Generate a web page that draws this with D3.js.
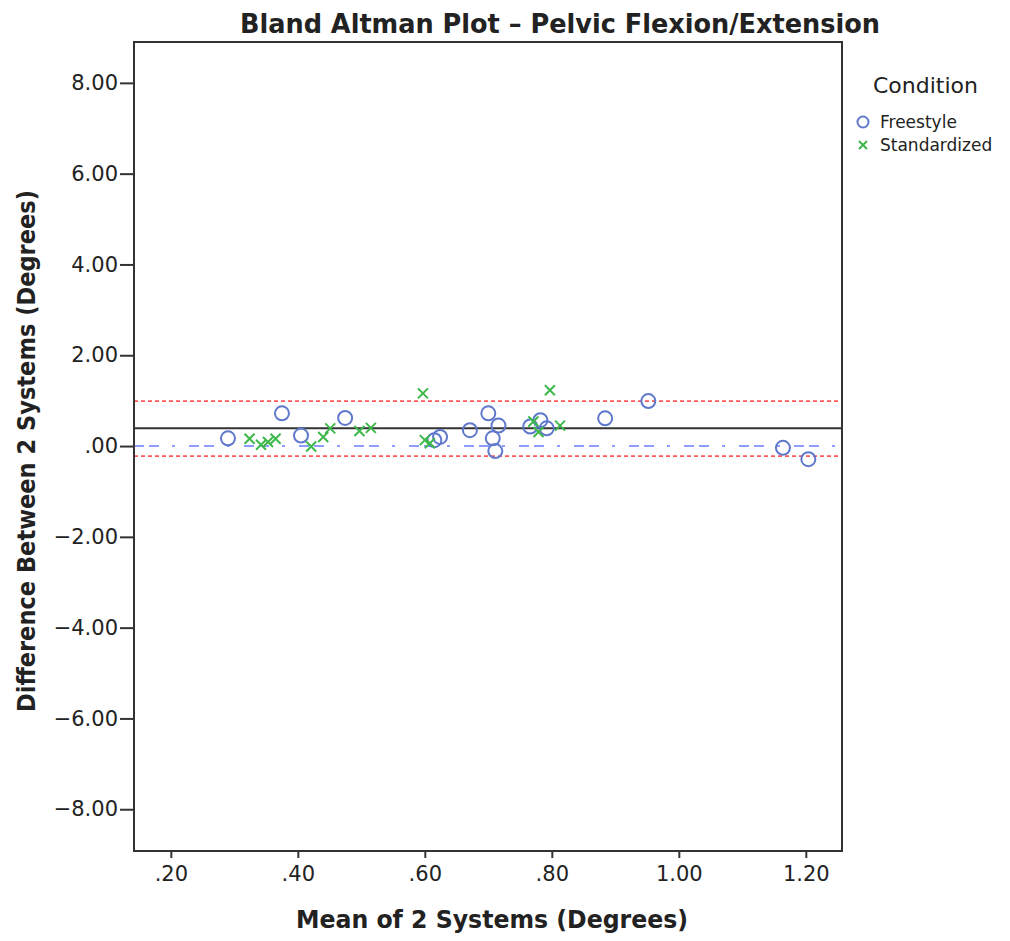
<!DOCTYPE html>
<html>
<head>
<meta charset="utf-8">
<script src="https://cdn.jsdelivr.net/npm/d3@7"></script>
<style>
  html, body { margin: 0; padding: 0; background: #fff; }
  svg { display: block; }
  text { font-family: "DejaVu Sans", sans-serif; fill: #222; }
</style>
</head>
<body>
<svg id="chart" width="1010" height="941"></svg>
<script>
// ---- data ----
const freestyleX = [0.290, 0.375, 0.405, 0.4745, 0.615, 0.624, 0.671, 0.700, 0.716, 0.707, 0.711, 0.766, 0.782, 0.792, 0.884, 0.952, 1.164, 1.204];
const freestyleY = [0.17, 0.72, 0.23, 0.62, 0.13, 0.20, 0.35, 0.72, 0.45, 0.17, -0.11, 0.43, 0.57, 0.39, 0.61, 0.99, -0.04, -0.29];
const standardX = [0.324, 0.342, 0.353, 0.365, 0.421, 0.440, 0.451, 0.497, 0.515, 0.597, 0.600, 0.608, 0.771, 0.779, 0.797, 0.813];
const standardY = [0.16, 0.03, 0.09, 0.16, -0.01, 0.20, 0.39, 0.33, 0.40, 1.16, 0.13, 0.06, 0.54, 0.31, 1.23, 0.45];
const meanDiff = 0.39;
const limitsOfAgreement = [0.99, -0.22];
const zeroLine = 0;
const xTicks = [0.2, 0.4, 0.6, 0.8, 1.0, 1.2];
const xTickLabels = [".20", ".40", ".60", ".80", "1.00", "1.20"];
const yTicks = [-8, -6, -4, -2, 0, 2, 4, 6, 8];
const yTickLabels = ["\u22128.00", "\u22126.00", "\u22124.00", "\u22122.00", ".00", "2.00", "4.00", "6.00", "8.00"];
const seriesNames = ["Freestyle", "Standardized"];
const titleText = "Bland Altman Plot \u2013 Pelvic Flexion/Extension";
const xTitle = "Mean of 2 Systems (Degrees)";
const yTitle = "Difference Between 2 Systems (Degrees)";
const legendTitle = "Condition";

// ---- layout ----
const L = 134, R = 842, T = 42, B = 851;
const blue = "#5f78cc", green = "#3db84a", red = "#ff5a5a", dashBlue = "#8c9dff";

const svg = d3.select("#chart");
const x = d3.scaleLinear().domain([0.142, 1.257]).range([L, R]);
const y = d3.scaleLinear().domain([-8.92, 8.90]).range([B, T]);

// reference lines
const g = svg.append("g");
g.append("line").attr("x1", L).attr("x2", R).attr("y1", y(zeroLine)).attr("y2", y(zeroLine))
  .attr("stroke", dashBlue).attr("stroke-width", 2).attr("stroke-dasharray", "10,5,10,13,3,14");
limitsOfAgreement.forEach(v => {
  g.append("line").attr("x1", L).attr("x2", R).attr("y1", y(v)).attr("y2", y(v))
    .attr("stroke", red).attr("stroke-width", 1.8).attr("stroke-dasharray", "4,3");
});
g.append("line").attr("x1", L).attr("x2", R).attr("y1", y(meanDiff)).attr("y2", y(meanDiff))
  .attr("stroke", "#333").attr("stroke-width", 2);

// points
const fData = freestyleX.map((v, i) => [v, freestyleY[i]]);
const sData = standardX.map((v, i) => [v, standardY[i]]);
g.selectAll("circle.f").data(fData).join("circle").attr("class", "f")
  .attr("cx", d => x(d[0])).attr("cy", d => y(d[1])).attr("r", 7)
  .attr("fill", "none").attr("stroke", blue).attr("stroke-width", 2);
const xs = 5;
g.selectAll("path.s").data(sData).join("path").attr("class", "s")
  .attr("d", d => { const cx = x(d[0]), cy = y(d[1]);
    return `M${cx-xs},${cy-xs}L${cx+xs},${cy+xs}M${cx-xs},${cy+xs}L${cx+xs},${cy-xs}`; })
  .attr("stroke", green).attr("stroke-width", 2).attr("fill", "none");

// axes
const xAxis = d3.axisBottom(x).tickValues(xTicks).tickFormat((d, i) => xTickLabels[i]).tickSize(7).tickPadding(8);
const yAxis = d3.axisLeft(y).tickValues(yTicks).tickFormat((d, i) => yTickLabels[i]).tickSize(14).tickPadding(2);
const gx = svg.append("g").attr("transform", `translate(0,${B})`).call(xAxis);
const gy = svg.append("g").attr("transform", `translate(${L},0)`).call(yAxis);
[gx, gy].forEach(a => {
  a.select(".domain").remove();
  a.selectAll(".tick line").attr("stroke", "#333").attr("stroke-width", 2);
  a.selectAll(".tick text").attr("font-size", 21).attr("fill", "#333")
    .style("font-family", "'DejaVu Sans', sans-serif");
});
gx.selectAll(".tick text").attr("dy", "0.71em");

// frame
svg.append("rect").attr("x", L).attr("y", T).attr("width", R - L).attr("height", B - T)
  .attr("fill", "none").attr("stroke", "#333").attr("stroke-width", 2);

// titles
svg.append("text").attr("x", 560).attr("y", 33).attr("text-anchor", "middle")
  .attr("font-size", 26).attr("font-weight", "bold")
  .style("font-family", "'DejaVu Sans Condensed', 'DejaVu Sans', sans-serif")
  .attr("textLength", 640).attr("lengthAdjust", "spacingAndGlyphs").text(titleText);
svg.append("text").attr("x", 492).attr("y", 928).attr("text-anchor", "middle")
  .attr("font-size", 24).attr("font-weight", "bold")
  .attr("textLength", 392).attr("lengthAdjust", "spacingAndGlyphs").text(xTitle);
svg.append("text").attr("transform", "translate(35,451) rotate(-90)").attr("text-anchor", "middle")
  .attr("font-size", 24).attr("font-weight", "bold")
  .attr("textLength", 522).attr("lengthAdjust", "spacingAndGlyphs").text(yTitle);

// legend
svg.append("text").attr("x", 873).attr("y", 93).attr("font-size", 22).text(legendTitle);
const lg = svg.append("g");
lg.append("circle").attr("cx", 863).attr("cy", 122).attr("r", 5.5)
  .attr("fill", "none").attr("stroke", blue).attr("stroke-width", 2);
lg.append("text").attr("x", 880).attr("y", 128).attr("font-size", 17).text(seriesNames[0]);
const lx = 863, ly = 145, ls = 4;
lg.append("path").attr("d", `M${lx-ls},${ly-ls}L${lx+ls},${ly+ls}M${lx-ls},${ly+ls}L${lx+ls},${ly-ls}`)
  .attr("stroke", green).attr("stroke-width", 2);
lg.append("text").attr("x", 880).attr("y", 151).attr("font-size", 17).text(seriesNames[1]);
</script>
</body>
</html>
